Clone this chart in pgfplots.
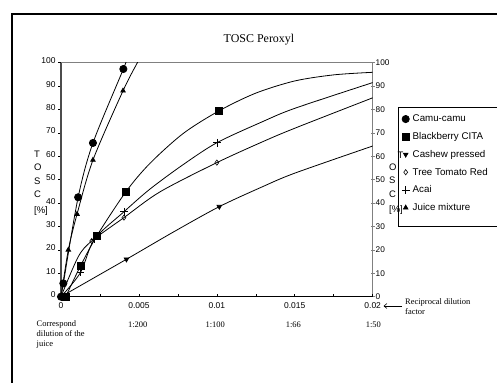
\documentclass[border=0pt]{standalone}
\usepackage{pgfplots}
\pgfplotsset{compat=1.18}
\usetikzlibrary{arrows.meta}
\usepackage{fontspec}
\setmainfont{Liberation Serif}
\newfontfamily\arial{Liberation Sans}
\begin{document}
\begin{tikzpicture}
\useasboundingbox (0,0) rectangle (497bp,-383bp);
\begin{scope}
\clip (0,0) rectangle (497bp,-383bp);
\draw[line width=2bp] (12bp,-14bp) rectangle (530bp,-430bp);
\end{scope}
% right (secondary) axis
\begin{axis}[
  at={(61bp,-296.7bp)}, anchor=south west,
  scale only axis, width=311.7bp, height=234bp,
  xmin=0, xmax=0.02, ymin=0, ymax=100,
  axis x line*=top, axis y line*=right,
  axis line style={gray, line width=1.2bp, -},
  xtick=\empty,
  ytick={0,10,...,100},
  ytick align=center, major tick length=4bp,
  tick style={gray, line width=0.6bp},
  yticklabel style={font=\arial\fontsize{8.3}{10}\selectfont, xshift=-2.5bp},
  /pgf/number format/assume math mode=true,
]
\addplot[draw=none, forget plot] coordinates {(0,0)};
\end{axis}
% main axis
\begin{axis}[
  at={(61bp,-296.7bp)}, anchor=south west,
  scale only axis, width=311.7bp, height=234bp,
  xmin=0, xmax=0.02, ymin=0, ymax=100,
  axis x line*=bottom, axis y line*=left,
  x axis line style={black, line width=1bp, -},
  y axis line style={gray!60!black, line width=1.2bp, -},
  scaled x ticks=false,
  xtick={0,0.005,0.01,0.015,0.02},
  xticklabels={0,0.005,0.01,0.015,0.02},
  minor xtick={0.0025,0.0075,0.0125,0.0175},
  xtick align=inside,
  ytick={0,10,...,100}, ytick align=outside,
  major tick length=3bp, minor tick length=3bp,
  tick style={black, line width=0.6bp},
  tick label style={font=\arial\fontsize{8.5}{10}\selectfont},
  xticklabel style={yshift=-2.5bp},
  yticklabel style={xshift=1bp, yshift=2bp},
  /pgf/number format/assume math mode=true,
  legend style={at={(rel axis cs:1.0876,0.7842)}, anchor=north west,
    draw=none, fill=none, font=\arial\fontsize{9.8}{11}\selectfont,
    row sep=6.2bp, inner sep=0pt, nodes={inner sep=1.5bp}},
  legend cell align=left,
  legend image code/.code={\path[draw=none,fill=none] (0bp,0bp) -- (11bp,0bp);\draw[mark repeat=2,mark phase=2,#1] plot coordinates {(0bp,0bp)(5.5bp,0bp)(11bp,0bp)};},
  every axis plot/.append style={line width=0.8bp, black},
]
% fitted curves
\addplot[smooth, forget plot] coordinates {(0,0)(0.00015,5.7)(0.0011,42.5)(0.00205,65.7)(0.004,97.3)(0.0046,108)};
\addplot[smooth, forget plot] coordinates {(0.0003,0)(0.00125,13.1)(0.00229,25.9)(0.00417,44.9)(0.00571,57)(0.00785,69.8)(0.01016,79.5)(0.0125,87)(0.015,92.2)(0.0175,94.8)(0.02,95.9)};
\addplot[smooth, forget plot] coordinates {(0,0)(0.0042,16)(0.0072,27.6)(0.01016,38.5)(0.01293,47)(0.015,52.8)(0.02,64.4)};
\addplot[smooth, forget plot] coordinates {(0,0)(0.0011,17)(0.00197,23.8)(0.00404,33.8)(0.00635,44.8)(0.01,57.3)(0.01293,66.2)(0.015,72)(0.02,85)};
\addplot[smooth, forget plot] coordinates {(0,0)(0.00125,10.3)(0.00214,24.5)(0.00404,36.3)(0.00571,46)(0.00785,56.5)(0.01,65.8)(0.01293,74.8)(0.015,80.5)(0.02,91.5)};
\addplot[smooth, forget plot] coordinates {(0,0)(0.00047,20)(0.00103,35.3)(0.00205,58.4)(0.00398,88)(0.0049,100)(0.0054,106)};
% markers
\addplot[only marks, mark=*, mark size=3.6bp] coordinates {(0,0)(0.00015,5.7)(0.0011,42.5)(0.00205,65.7)(0.004,97.3)};
\addlegendentry{Camu-camu}
\addplot[only marks, mark=square*, mark size=3.5bp] coordinates {(0.0003,0)(0.00125,13.1)(0.00229,25.9)(0.00417,44.9)(0.01016,79.5)};
\addlegendentry{Blackberry CITA}
\addplot[only marks, mark=triangle*, mark size=2.6bp, mark options={rotate=180}] coordinates {(0,0)(0.0042,16)(0.01016,38.5)};
\addlegendentry{Cashew pressed}
\addplot[only marks, mark=diamond, mark size=2.6bp, mark options={line width=0.6bp}] coordinates {(0,0)(0.00197,23.8)(0.00404,33.8)(0.01,57.3)};
\addlegendentry{Tree Tomato Red}
\addplot[only marks, mark=+, mark size=3.8bp, mark options={line width=0.6bp}] coordinates {(0,0)(0.00125,10.3)(0.00214,24.5)(0.00404,36.3)(0.01,65.8)};
\addlegendentry{Acai}
\addplot[only marks, mark=triangle*, mark size=2.6bp] coordinates {(0,0)(0.00047,20)(0.00103,35.3)(0.00205,58.4)(0.00398,88)};
\addlegendentry{Juice mixture}
\end{axis}
% legend box
\begin{scope}
\clip (0,0) rectangle (497bp,-383bp);
\draw[line width=0.8bp] (398bp,-107bp) rectangle (540bp,-226bp);
\end{scope}
% title
\node[font=\fontsize{12}{14}\selectfont] at (259bp,-40bp) {TOSC Peroxyl};
% left y label
\node[font=\arial\fontsize{9.5}{13.3}\selectfont, align=left, anchor=north west, inner sep=0pt] at (34bp,-151bp) {T\\O\\S\\C\\[2.5bp][\%]};
% right y label
\node[font=\arial\fontsize{9.5}{13}\selectfont, anchor=center, inner sep=0pt] at (400.5bp,-155bp) {T};
\node[font=\arial\fontsize{9.5}{13.2}\selectfont, align=left, anchor=north west, inner sep=0pt] at (389bp,-164bp) {O\\S\\C\\[2.5bp][\%]};
% dilution annotations
\node[font=\fontsize{8.5}{10.3}\selectfont, align=left, anchor=north west, inner sep=0pt] at (36.5bp,-320bp) {Correspond\\dilution of the\\juice};
\node[font=\fontsize{8.5}{10}\selectfont] at (137.7bp,-325bp) {1:200};
\node[font=\fontsize{8.5}{10}\selectfont] at (215.3bp,-325bp) {1:100};
\node[font=\fontsize{8.5}{10}\selectfont] at (293.3bp,-325bp) {1:66};
\node[font=\fontsize{8.5}{10}\selectfont] at (373.3bp,-325bp) {1:50};
\node[font=\fontsize{8.5}{10.3}\selectfont, align=left, anchor=north west, inner sep=0pt] at (405bp,-298bp) {Reciprocal dilution\\factor};
\draw[line width=0.6bp, -{Straight Barb[length=3bp,width=5bp]}] (402bp,-306bp) -- (383.5bp,-306bp);
\end{tikzpicture}
\end{document}
